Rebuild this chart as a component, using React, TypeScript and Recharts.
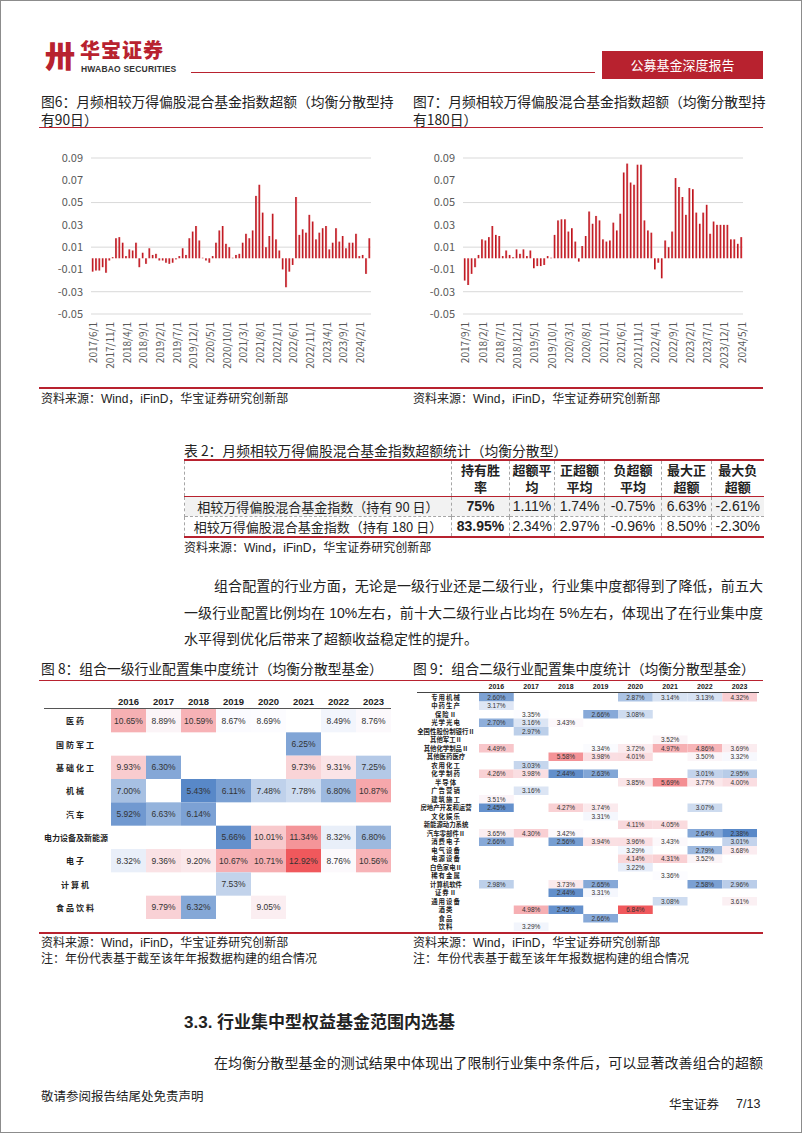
import React from 'react'
import { BarChart, Bar, XAxis, YAxis, CartesianGrid, ScatterChart, Scatter } from 'recharts'

// month labels like 2017/6/1
const monthSeq = (year: number, month: number, count: number) => {
  const out: string[] = []
  let y = year
  let m = month
  for (let i = 0; i < count; i++) {
    out.push(`${y}/${m}/1`)
    m += 1
    if (m > 12) { m = 1; y += 1 }
  }
  return out
}

const hold90Months = monthSeq(2017, 6, 84)
const hold90Excess = [
  -0.012, -0.011, -0.011, -0.008, -0.013, -0.002, 0.001, 0.018, 0.019, 0.014,
  0.002, 0.008, 0.007, 0.014, -0.008, 0.005, -0.005, 0.009, 0.003, 0.004,
  -0.002, -0.002, -0.004, -0.005, -0.004, -0.001, 0.002, 0.009, 0.003, 0.018,
  0.024, 0.029, 0.016, 0.0005, -0.002, -0.004, 0.002, 0.014, 0.025, 0.029,
  0.013, 0.010, 0.0005, 0.003, 0.004, 0.014, 0.022, 0.018, 0.025, 0.056,
  0.066, 0.041, 0.010, 0.020, 0.040, 0.017, 0.007, -0.010, -0.026, -0.012,
  -0.006, 0.055, 0.021, 0.026, 0.023, 0.039, 0.033, 0.017, 0.023, 0.027,
  0.029, 0.008, 0.014, 0.027, 0.015, 0.020, 0.009, 0.014, 0.014, 0.022,
  0.002, 0.003, -0.014, 0.018,
]

const hold180Months = monthSeq(2017, 9, 81)
const hold180Excess = [
  -0.020, -0.024, -0.014, -0.008, 0.003, 0.017, 0.016, 0.019, 0.029, 0.021,
  0.020, 0.002, 0.007, 0.003, 0.001, 0.008, 0.004, 0.008, 0.002, 0.007,
  -0.009, -0.007, -0.007, -0.006, 0.002, 0.0005, 0.021, 0.034, 0.035, 0.035,
  0.024, 0.027, 0.015, -0.003, 0.011, 0.020, 0.042, 0.031, 0.038, 0.034,
  0.017, 0.015, 0.016, 0.032, 0.025, 0.040, 0.077, 0.085, 0.068, 0.066,
  0.084, 0.084, 0.034, 0.025, 0.023, -0.010, -0.004, -0.018, 0.016, 0.010,
  0.024, 0.072, 0.064, 0.055, 0.039, 0.063, 0.062, 0.041, 0.031, 0.041,
  0.048, 0.022, 0.033, 0.030, 0.030, 0.030, 0.030, 0.017, 0.017, 0.013,
  0.019,
]

const excessTicks = [-0.05, -0.03, -0.01, 0.01, 0.03, 0.05, 0.07, 0.09]

const statHeaders = [['持有胜', '率'], ['超额平', '均'], ['正超额', '平均'], ['负超额', '平均'], ['最大正', '超额'], ['最大负', '超额']]
const statRowNames = ['相较万得偏股混合基金指数（持有 90 日）', '相较万得偏股混合基金指数（持有 180 日）']
const statHold90 = ['75%', '1.11%', '1.74%', '-0.75%', '6.63%', '-2.61%']
const statHold180 = ['83.95%', '2.34%', '2.97%', '-0.96%', '8.50%', '-2.30%']

const years = ['2016', '2017', '2018', '2019', '2020', '2021', '2022', '2023']

const level1Industries = ['医药', '国防军工', '基础化工', '机械', '汽车', '电力设备及新能源', '电子', '计算机', '食品饮料']
const level1Weights = [
  [10.65, 8.89, 10.59, 8.67, 8.69, null, 8.49, 8.76],
  [null, null, null, null, null, 6.25, null, null],
  [9.93, 6.30, null, null, null, 9.73, 9.31, 7.25],
  [7.00, null, 5.43, 6.11, 7.48, 7.78, 6.80, 10.87],
  [5.92, 6.63, 6.14, null, null, null, null, null],
  [null, null, null, 5.66, 10.01, 11.34, 8.32, 6.80],
  [8.32, 9.36, 9.20, 10.67, 10.71, 12.92, 8.76, 10.56],
  [null, null, null, 7.53, null, null, null, null],
  [null, 9.79, 6.32, null, 9.05, null, null, null],
]

const level2Industries = [
  '专用机械', '中药生产', '保险Ⅱ', '光学光电', '全国性股份制银行Ⅱ', '其他军工Ⅱ', '其他化学制品Ⅱ',
  '其他医药医疗', '农用化工', '化学制药', '半导体', '广告营销', '建筑施工', '房地产开发和运营',
  '文化娱乐', '新能源动力系统', '汽车零部件Ⅱ', '消费电子', '电气设备', '电源设备', '白色家电Ⅱ',
  '稀有金属', '计算机软件', '证券Ⅱ', '通用设备', '酒类', '食品', '饮料',
]
const level2Weights = [
  [2.60, null, null, null, 2.87, 3.14, 3.13, 4.32],
  [3.17, null, null, null, null, null, null, null],
  [null, 3.35, null, 2.66, 3.08, null, null, null],
  [2.70, 3.16, 3.43, null, null, null, null, null],
  [null, 2.97, null, null, null, null, null, null],
  [null, null, null, null, null, 3.52, null, null],
  [4.49, null, null, 3.34, 3.72, 4.97, 4.86, 3.69],
  [null, null, 5.58, 3.98, 4.01, null, 3.50, 3.32],
  [null, 3.03, null, null, null, null, null, null],
  [4.26, 3.98, 2.44, 2.63, null, null, 3.01, 2.95],
  [null, null, null, null, 3.85, 5.69, 3.77, 4.00],
  [null, 3.16, null, null, null, null, null, null],
  [3.51, null, null, null, null, null, null, null],
  [2.45, null, 4.27, 3.74, null, null, 3.07, null],
  [null, null, null, 3.31, null, null, null, null],
  [null, null, null, null, 4.11, 4.05, null, null],
  [3.65, 4.30, 3.42, null, null, null, 2.64, 2.38],
  [2.66, null, 2.56, 3.94, 3.96, 3.43, null, 3.01],
  [null, null, null, null, 3.29, null, 2.79, 3.68],
  [null, null, null, null, 4.14, 4.31, 3.52, null],
  [null, null, null, null, 3.22, null, null, null],
  [null, null, null, null, null, 3.36, null, null],
  [2.98, null, 3.73, 2.65, null, null, 2.58, 2.96],
  [null, null, 2.44, 3.31, null, null, null, null],
  [null, null, null, null, null, 3.08, null, 3.61],
  [null, 4.98, 2.45, null, 6.84, null, null, null],
  [null, null, null, 2.66, null, null, null, null],
  [null, 3.29, null, null, null, null, null, null],
]

const RED = '#b8222f'
const SANS = '"Liberation Sans", "Noto Sans CJK SC", sans-serif'
const CJK = '"Noto Sans CJK SC", sans-serif'

const abs = (left: number, top: number, extra: React.CSSProperties = {}): React.CSSProperties => ({
  position: 'absolute', left, top, ...extra,
})

// red-white-blue colour scale like Excel conditional formatting
const LOW = [88, 136, 200]
const MID = [252, 252, 255]
const HIGH = [240, 88, 92]
const mix = (a: number[], b: number[], t: number) =>
  `rgb(${a.map((v, i) => Math.round(v + (b[i] - v) * t)).join(',')})`

const makeScale = (rows: (number | null)[][]) => {
  const vals = rows.flat().filter((v): v is number => v !== null).sort((a, b) => a - b)
  const min = vals[0]
  const max = vals[vals.length - 1]
  const mid = vals[Math.floor(vals.length / 2)]
  return (v: number) => (v <= mid ? mix(LOW, MID, (v - min) / (mid - min)) : mix(MID, HIGH, (v - mid) / (max - mid)))
}

const toCells = (rows: (number | null)[][]) => {
  const cells: { col: number; row: number; weight: number }[] = []
  rows.forEach((r, ri) => r.forEach((v, ci) => { if (v !== null) cells.push({ col: ci, row: ri, weight: v }) }))
  return cells
}

const MonthTick = ({ x, y, payload }: any) => (
  <text x={x} y={y} transform={`rotate(-90 ${x} ${y})`} textAnchor="end" dominantBaseline="central"
    fontSize={10} fill="#595959" fontFamily={CJK}>
    {payload.value}
  </text>
)

function ExcessBars({ months, values, width, marginLeft, marginRight, gid }: {
  months: string[]; values: number[]; width: number; marginLeft: number; marginRight: number; gid: string
}) {
  const data = months.map((m, i) => ({ month: m, excess: values[i] }))
  return (
    <BarChart width={width} height={245} data={data} barCategoryGap="25%"
      margin={{ top: 17, right: marginRight, bottom: 12, left: marginLeft }}>
      <defs>
        <linearGradient id={gid} x1="0" y1="0" x2="1" y2="0">
          <stop offset="0%" stopColor="#a00c16" />
          <stop offset="55%" stopColor="#d2262f" />
          <stop offset="100%" stopColor="#f0a3a3" />
        </linearGradient>
      </defs>
      <CartesianGrid vertical={false} stroke="#d9d9d9" />
      <XAxis dataKey="month" interval={4} height={60} tick={<MonthTick />} tickLine={false} axisLine={false} />
      <YAxis domain={[-0.05, 0.09]} ticks={excessTicks} width={45} axisLine={false} tickLine={false}
        tickFormatter={(v: number) => v.toFixed(2)}
        tick={{ fontSize: 11, fill: '#595959', fontFamily: CJK }} />
      <Bar dataKey="excess" fill={`url(#${gid})`} isAnimationActive={false} />
    </BarChart>
  )
}

function Heatmap({ rows, labels, width, height, labelWidth, top, right, headerH, yearFont, labelFont, cellFont, labelOffset, labelSpacing }: {
  rows: (number | null)[][]; labels: string[]; width: number; height: number; labelWidth: number
  top: number; right: number; headerH: number; yearFont: number; labelFont: number; cellFont: number
  labelOffset: number; labelSpacing: number
}) {
  const color = makeScale(rows)
  const cellW = (width - labelWidth - right) / years.length
  const cellH = (height - top - headerH) / labels.length
  const HeatCell = (p: any) => {
    const { cx, cy, payload } = p
    return (
      <g>
        <rect x={cx - cellW / 2} y={cy - cellH / 2} width={cellW} height={cellH} fill={color(payload.weight)} />
        <text x={cx} y={cy} textAnchor="middle" dominantBaseline="central" fontSize={cellFont}
          fill="#333" fontFamily={SANS}>{payload.weight.toFixed(2)}%</text>
      </g>
    )
  }
  return (
    <ScatterChart width={width} height={height} margin={{ top, right, bottom: 0, left: 0 }}>
      <XAxis type="number" dataKey="col" orientation="top" domain={[-0.5, years.length - 0.5]}
        ticks={years.map((_, i) => i)} interval={0} height={headerH} axisLine={false} tickLine={false}
        tickSize={0} allowDataOverflow
        tick={(p: any) => (
          <text x={p.x} y={p.y} dy={-2} textAnchor="middle" fontSize={yearFont} fontWeight="bold"
            fill="#222" fontFamily={SANS}>{years[p.payload.value]}</text>
        )} />
      <YAxis type="number" dataKey="row" reversed domain={[-0.5, labels.length - 0.5]}
        ticks={labels.map((_, i) => i)} interval={0} width={labelWidth} axisLine={false} tickLine={false}
        allowDataOverflow
        tick={(p: any) => (
          <text x={p.x - labelOffset} y={p.y} textAnchor="middle" dominantBaseline="central"
            fontSize={labelFont} fontWeight="bold" fill="#222" fontFamily={CJK}
            letterSpacing={labels[p.payload.value].length <= 4 ? labelSpacing : 0}>{labels[p.payload.value]}</text>
        )} />
      <Scatter data={toCells(rows)} shape={HeatCell} isAnimationActive={false} />
    </ScatterChart>
  )
}

const Line = ({ left, top, width, height = 1, color = RED }: any) => (
  <div style={abs(left, top, { width, height, background: color })} />
)

const para = (text: string, left: number, top: number, width: number, justify = true) => (
  <div style={abs(left, top, {
    width, fontSize: 14, lineHeight: '26px', color: '#222', whiteSpace: 'nowrap',
    textAlign: justify ? 'justify' : 'left', textAlignLast: justify ? 'justify' : 'left', fontFamily: SANS,
  })}>{text}</div>
)

export default function App() {
  const cellBorder = '1px dashed #a6a6a6'
  const colWidths = [267, 58, 45, 50, 57, 50, 52]
  return (
    <div style={{
      position: 'absolute', left: 0, top: 0, width: 802, height: 1133, background: '#fff',
      border: '1px solid #8c8c8c', boxSizing: 'border-box', overflow: 'hidden', fontFamily: CJK, color: '#222',
    }}>
      {/* header */}
      <div style={abs(44, 33, { fontSize: 30, fontWeight: 900, color: RED, lineHeight: '40px' })}>卅</div>
      <div style={abs(79, 37, { fontSize: 20, fontWeight: 900, color: RED, lineHeight: '24px', letterSpacing: 1 })}>华宝证券</div>
      <div style={abs(80, 63, { fontSize: 8.5, fontWeight: 'bold', color: '#333', lineHeight: '10px', fontFamily: SANS, letterSpacing: 0.2 })}>HWABAO SECURITIES</div>
      <Line left={190} top={71} width={404} />
      <div style={abs(601, 50, { width: 161, height: 28, background: RED, color: '#fff', fontSize: 13, lineHeight: '28px', textAlign: 'center' })}>公募基金深度报告</div>

      {/* figure 6 / 7 */}
      <div style={abs(40, 91, { fontSize: 13.8, lineHeight: '18px', whiteSpace: 'nowrap' })}>图6：月频相较万得偏股混合基金指数超额（均衡分散型持<br />有90日）</div>
      <div style={abs(412, 91, { fontSize: 13.8, lineHeight: '18px', whiteSpace: 'nowrap' })}>图7：月频相较万得偏股混合基金指数超额（均衡分散型持<br />有180日）</div>
      <Line left={38} top={126} width={724} />
      <div style={abs(40, 140)}>
        <ExcessBars months={hold90Months} values={hold90Excess} width={350} marginLeft={5} marginRight={20} gid="red90" />
      </div>
      <div style={abs(410, 140)}>
        <ExcessBars months={hold180Months} values={hold180Excess} width={360} marginLeft={7} marginRight={28} gid="red180" />
      </div>
      <Line left={38} top={386} width={724} height={2} />
      <div style={abs(40, 390, { fontSize: 12, lineHeight: '16px', fontFamily: SANS })}>资料来源：Wind，iFinD，华宝证券研究创新部</div>
      <div style={abs(412, 390, { fontSize: 12, lineHeight: '16px', fontFamily: SANS })}>资料来源：Wind，iFinD，华宝证券研究创新部</div>

      {/* table 2 */}
      <div style={abs(183, 440, { fontSize: 13.8, lineHeight: '18px' })}>表 2：月频相较万得偏股混合基金指数超额统计（均衡分散型）</div>
      <table style={abs(183, 458, {
        width: 579, borderCollapse: 'collapse', tableLayout: 'fixed', borderTop: `2px solid ${RED}`,
        borderBottom: `2px solid ${RED}`, fontFamily: SANS,
      })}>
        <colgroup>{colWidths.map((w, i) => <col key={i} style={{ width: w }} />)}</colgroup>
        <tbody>
          <tr style={{ height: 36, borderBottom: `1.5px solid ${RED}` }}>
            <td style={{ borderLeft: cellBorder }} />
            {statHeaders.map((h, i) => (
              <td key={i} style={{ borderLeft: cellBorder, textAlign: 'center', fontWeight: 'bold', fontSize: 13, lineHeight: '17px', fontFamily: CJK, padding: 0 }}>
                {h[0]}<br />{h[1]}
              </td>
            ))}
          </tr>
          {[statHold90, statHold180].map((row, ri) => (
            <tr key={ri} style={{ height: 19, background: ri === 0 ? '#f2f2f2' : '#fff', borderBottom: ri === 0 ? cellBorder : undefined }}>
              <td style={{ borderLeft: cellBorder, textAlign: 'center', fontSize: 13, fontFamily: CJK, padding: 0, lineHeight: '19px', whiteSpace: 'nowrap' }}>{statRowNames[ri]}</td>
              {row.map((v, i) => (
                <td key={i} style={{ borderLeft: cellBorder, textAlign: 'center', fontSize: 14, padding: 0, lineHeight: '19px', fontWeight: i === 0 ? 'bold' : 'normal' }}>{v}</td>
              ))}
            </tr>
          ))}
        </tbody>
      </table>
      <div style={abs(183, 539, { fontSize: 12, lineHeight: '16px', fontFamily: SANS })}>资料来源：Wind，iFinD，华宝证券研究创新部</div>

      {para('组合配置的行业方面，无论是一级行业还是二级行业，行业集中度都得到了降低，前五大', 213, 572, 549)}
      {para('一级行业配置比例均在 10%左右，前十大二级行业占比均在 5%左右，体现出了在行业集中度', 183, 599, 579)}
      {para('水平得到优化后带来了超额收益稳定性的提升。', 183, 625, 579, false)}

      {/* figure 8 / 9 */}
      <div style={abs(40, 658, { fontSize: 13.8, lineHeight: '18px', whiteSpace: 'nowrap' })}>图 8：组合一级行业配置集中度统计（均衡分散型基金）</div>
      <div style={abs(412, 658, { fontSize: 13.8, lineHeight: '18px', whiteSpace: 'nowrap' })}>图 9：组合二级行业配置集中度统计（均衡分散型基金）</div>
      <Line left={38} top={679} width={724} />
      <div style={abs(38, 685)}>
        <Heatmap rows={level1Weights} labels={level1Industries} width={360} height={233} labelWidth={72}
          top={5} right={8} headerH={18} yearFont={9.5} labelFont={8} cellFont={8.5} labelOffset={27} labelSpacing={2} />
      </div>
      <Line left={43} top={707} width={347} color="#555" />
      <div style={abs(410, 680)}>
        <Heatmap rows={level2Weights} labels={level2Industries} width={352} height={250} labelWidth={68}
          top={2} right={6} headerH={10} yearFont={7} labelFont={6.4} cellFont={6.5} labelOffset={25} labelSpacing={1} />
      </div>
      <Line left={416} top={691} width={342} color="#444" />
      <Line left={38} top={931} width={724} height={2} />
      <div style={abs(40, 934, { fontSize: 12, lineHeight: '16px', fontFamily: SANS })}>资料来源：Wind，iFinD，华宝证券研究创新部<br />注：年份代表基于截至该年年报数据构建的组合情况</div>
      <div style={abs(412, 934, { fontSize: 12, lineHeight: '16px', fontFamily: SANS })}>资料来源：Wind，iFinD，华宝证券研究创新部<br />注：年份代表基于截至该年年报数据构建的组合情况</div>

      {/* section 3.3 */}
      <div style={abs(183, 1010, { fontSize: 17, fontWeight: 'bold', lineHeight: '24px', fontFamily: SANS })}>3.3. 行业集中型权益基金范围内选基</div>
      {para('在均衡分散型基金的测试结果中体现出了限制行业集中条件后，可以显著改善组合的超额', 213, 1049, 549)}

      {/* footer */}
      <div style={abs(40, 1087, { fontSize: 12.5, lineHeight: '16px' })}>敬请参阅报告结尾处免责声明</div>
      <div style={abs(668, 1095, { fontSize: 12.5, lineHeight: '16px' })}>华宝证券</div>
      <div style={abs(735, 1095, { fontSize: 12.5, lineHeight: '16px', fontFamily: SANS })}>7/13</div>
    </div>
  )
}
